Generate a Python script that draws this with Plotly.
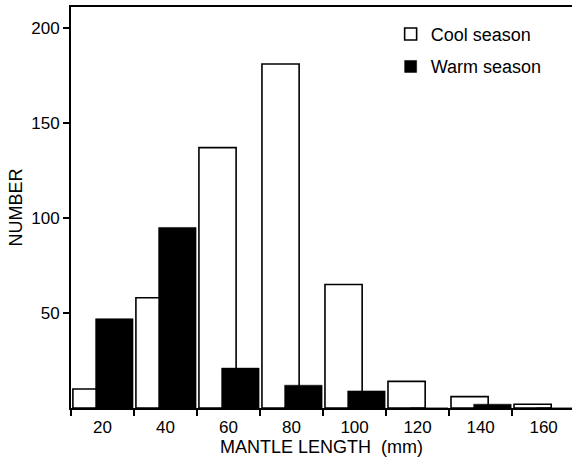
import plotly.graph_objects as go

categories = [20, 40, 60, 80, 100, 120, 140, 160]
cool_season = [10, 58, 137, 181, 65, 14, 6, 2]
warm_season = [47, 95, 21, 12, 9, 0, 2, 0]
y_ticks = [50, 100, 150, 200]
bin_edges = [10, 30, 50, 70, 90, 110, 130, 150, 170]

FONT = "Liberation Sans, Arial, Helvetica, sans-serif"

fig = go.Figure()
fig.add_trace(go.Bar(
    x=categories, y=cool_season, name="Cool season",
    offset=-9.4, width=11.8,
    marker=dict(color="white", line=dict(color="black", width=1.6)),
    legendgroup="c",
))
fig.add_trace(go.Bar(
    x=categories, y=warm_season, name="Warm season",
    offset=-2.2, width=11.9,
    marker=dict(color="black", line=dict(color="black", width=0.5)),
    legendgroup="w",
))

fig.update_layout(
    width=572, height=467,
    margin=dict(l=71, r=0, t=7, b=59),
    paper_bgcolor="white", plot_bgcolor="white",
    barmode="overlay",
    font=dict(family=FONT, size=17, color="black"),
    legend=dict(
        x=0.638, y=0.978, xanchor="left", yanchor="top",
        font=dict(size=18, color="black"),
        bgcolor="rgba(0,0,0,0)", tracegroupgap=6,
        itemwidth=30,
    ),
    xaxis=dict(
        range=[10, 169], tickvals=categories,
        ticktext=[str(c) for c in categories],
        ticks="", showgrid=False, zeroline=False, automargin=False,
        showline=True, linecolor="black", linewidth=2, mirror=True,
        tickfont=dict(size=17), ticklabelstandoff=3,
        minor=dict(tickvals=bin_edges, ticks="outside", ticklen=6,
                   tickcolor="black", tickwidth=1.5, showgrid=False),
        title=dict(text="MANTLE LENGTH  (mm)", font=dict(size=18), standoff=4),
    ),
    yaxis=dict(
        range=[0, 211], tickvals=y_ticks,
        ticks="outside", ticklen=6, tickwidth=1.5, tickcolor="black",
        showgrid=False, zeroline=False, automargin=False,
        showline=True, linecolor="black", linewidth=2,
        tickfont=dict(size=17),
        title=dict(text="NUMBER", font=dict(size=18), standoff=4),
    ),
)

fig.write_html("out.html", config={"displayModeBar": False},
               post_script="document.body.style.margin='0px';")
